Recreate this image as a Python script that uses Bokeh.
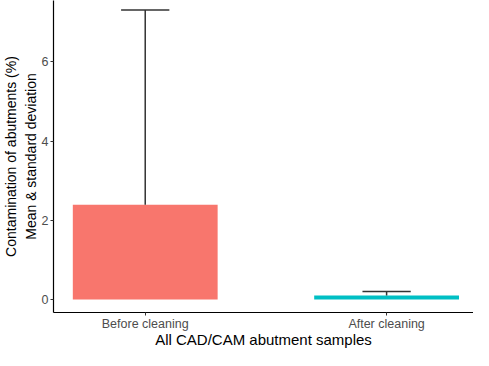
from bokeh.plotting import figure
from bokeh.models import Range1d, FixedTicker
from bokeh.embed import file_html
from bokeh.resources import INLINE

categories = ["Before cleaning", "After cleaning"]
means = [2.39, 0.1]
sds = [4.92, 0.1]
colors = ["#F8766D", "#00BFC4"]
y_ticks = [0, 2, 4, 6]

xs = list(range(1, len(categories) + 1))
tops = [m + s for m, s in zip(means, sds)]

p = figure(width=473, height=350, output_backend="svg", toolbar_location=None,
           x_range=Range1d(0.62, 2.36), y_range=Range1d(-0.33, 7.55),
           min_border_left=0, min_border_right=0, min_border_top=0, min_border_bottom=0)

p.vbar(x=xs, top=means, bottom=0, width=0.6, fill_color=colors, line_color=None)
p.segment(x0=xs, y0=means, x1=xs, y1=tops, line_color="#333333", line_width=1.5)
p.segment(x0=[x - 0.1 for x in xs], y0=tops, x1=[x + 0.1 for x in xs], y1=tops,
          line_color="#333333", line_width=1.5)

p.outline_line_color = None
p.xgrid.visible = False
p.ygrid.visible = False
p.background_fill_color = "white"
p.border_fill_color = "white"

for ax in (p.xaxis[0], p.yaxis[0]):
    ax.axis_line_color = "black"
    ax.axis_line_width = 1.2
    ax.major_tick_line_color = "#333333"
    ax.major_tick_in = 0
    ax.major_tick_out = 3
    ax.minor_tick_line_color = None
    ax.major_label_text_color = "#4D4D4D"
    ax.major_label_text_font = "Liberation Sans"
    ax.major_label_text_font_size = "12.5px"
    ax.axis_label_text_font = "Liberation Sans"
    ax.axis_label_text_font_style = "normal"
    ax.axis_label_text_color = "black"

p.xaxis.ticker = FixedTicker(ticks=xs)
p.xaxis.major_label_overrides = {x: c for x, c in zip(xs, categories)}
p.xaxis.axis_label = "All CAD/CAM abutment samples"
p.xaxis.axis_label_text_font_size = "15px"
p.xaxis.axis_label_standoff = -3
p.xaxis.major_label_standoff = 1

p.yaxis.ticker = FixedTicker(ticks=y_ticks)
p.yaxis.axis_label = "Contamination of abutments (%)\nMean & standard deviation"
p.yaxis.axis_label_text_font_size = "14px"
p.yaxis.axis_label_standoff = 0
p.yaxis.major_label_standoff = 2

open("out.html", "w").write(file_html(p, INLINE))
